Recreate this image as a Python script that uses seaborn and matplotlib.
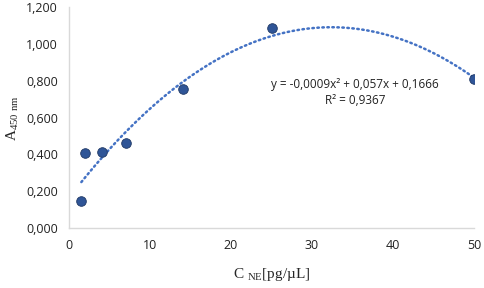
import matplotlib
matplotlib.use("Agg")
import matplotlib.pyplot as plt
import seaborn as sns
import pandas as pd
from matplotlib.ticker import FuncFormatter

conc = [1.5, 2, 4, 7, 14, 25, 50]
absorb = [0.147, 0.410, 0.415, 0.460, 0.752, 1.085, 0.810]
eq_text = "y = -0,0009x² + 0,057x + 0,1666\nR² = 0,9367"

df = pd.DataFrame({"c": conc, "a": absorb})

sns.set_theme(style="white")
plt.rcParams['font.family'] = ['Open Sans', 'DejaVu Sans']
plt.rcParams['mathtext.fontset'] = 'custom'
plt.rcParams['mathtext.rm'] = 'Liberation Serif'

fig = plt.figure(figsize=(4.84, 2.88), dpi=100)
ax = fig.add_axes([0.143, 0.208, 0.836, 0.768])

sns.regplot(data=df, x="c", y="a", order=2, ci=None, ax=ax,
            scatter=False,
            line_kws=dict(color="#4472C4", lw=1.8, ls=(0, (0.6, 1.4)), dash_capstyle="round"))
sns.scatterplot(data=df, x="c", y="a", ax=ax, s=48, color="#2F5597",
                edgecolor="#1F3864", linewidth=0.6, zorder=5)

ax.set_xlim(0, 50)
ax.set_ylim(0, 1.2)
ax.set_xticks([0, 10, 20, 30, 40, 50])
ax.set_yticks([0, 0.2, 0.4, 0.6, 0.8, 1.0, 1.2])
ax.yaxis.set_major_formatter(FuncFormatter(lambda v, p: f"{v:,.3f}".replace(".", ",")))
ax.tick_params(axis="both", length=0, labelsize=9, colors="#222222", pad=8)
for s in ["top", "right"]:
    ax.spines[s].set_visible(False)
for s in ["left", "bottom"]:
    ax.spines[s].set_color("#D9D9D9")
    ax.spines[s].set_linewidth(1)

ax.set_xlabel(r"C $_{\mathrm{NE}}$[pg/µL]", family="Liberation Serif", fontsize=11, labelpad=10)
ax.set_ylabel(r"A$_{\mathrm{450\ nm}}$", family="Liberation Serif", fontsize=11, labelpad=4)

ax.text(35.3, 0.735, eq_text, ha="center", va="center", fontsize=8.5, color="#222222",
        linespacing=1.25)

fig.savefig("out.png", dpi=100)
